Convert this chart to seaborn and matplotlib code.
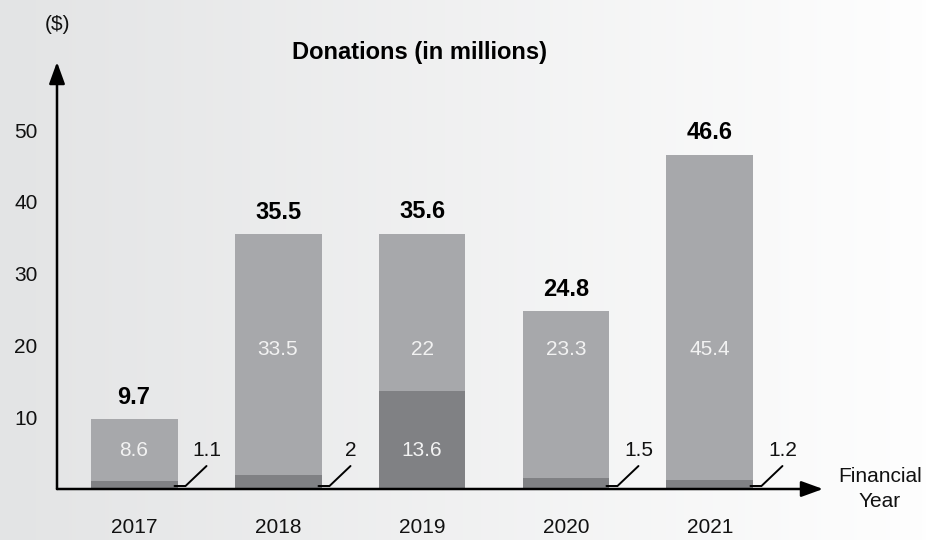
import numpy as np
import pandas as pd
import matplotlib
matplotlib.use("Agg")
import matplotlib.pyplot as plt
import seaborn as sns
from matplotlib.colors import LinearSegmentedColormap
from matplotlib.transforms import IdentityTransform

# Donations by financial year, split into two components (millions of $)
years = ["2017", "2018", "2019", "2020", "2021"]
base_part = [1.1, 2, 13.6, 1.5, 1.2]
upper_part = [8.6, 33.5, 22, 23.3, 45.4]
totals = [9.7, 35.5, 35.6, 24.8, 46.6]
y_ticks = [10, 20, 30, 40, 50]

LIGHT = "#a7a8ab"
DARK = "#808184"
W, H, DPI = 926, 540, 100

sns.set_theme(style="white")
plt.rcParams["font.family"] = ["Liberation Sans", "DejaVu Sans"]

fig = plt.figure(figsize=(W / DPI, H / DPI), dpi=DPI)

# soft horizontal background gradient
bg = fig.add_axes([0, 0, 1, 1], zorder=0)
cmap = LinearSegmentedColormap.from_list("bg", ["#e3e4e5", "#fefefe"])
bg.imshow(np.linspace(0, 1, 256)[None, :], aspect="auto", cmap=cmap,
          extent=[0, 1, 0, 1])
bg.axis("off")

ax = fig.add_axes([57 / W, (H - 489) / H, (823 - 57) / W, (489 - 62) / H], zorder=1)
ax.patch.set_alpha(0)

df = pd.DataFrame({"year": years, "total": totals, "base": base_part,
                   "upper": upper_part})
bar_w = 0.604
sns.barplot(data=df, x="year", y="total", color=LIGHT, width=bar_w,
            saturation=1, linewidth=0, ax=ax)
sns.barplot(data=df, x="year", y="base", color=DARK, width=bar_w,
            saturation=1, linewidth=0, ax=ax)

ax.set_xlim(-0.535, 4.785)
ax.set_ylim(0, 59.5)
for s in ax.spines.values():
    s.set_visible(False)
ax.set_xlabel("")
ax.set_ylabel("")
ax.set_yticks(y_ticks)
ax.set_yticklabels([str(t) for t in y_ticks])
ax.tick_params(axis="y", length=0, pad=14, labelsize=15, colors="#111111")
ax.tick_params(axis="x", length=0, pad=21, labelsize=15, colors="#111111")
ax.grid(False)

# axes drawn as arrows
arrow = dict(arrowstyle="-|>,head_length=0.55,head_width=0.2", color="black",
             lw=1.8, shrinkA=0, shrinkB=0, mutation_scale=24)
ax.annotate("", xy=(1, 0), xytext=(0, 0), xycoords="axes fraction",
            arrowprops=arrow, annotation_clip=False)
ax.annotate("", xy=(0, 1), xytext=(0, 0), xycoords="axes fraction",
            arrowprops=arrow, annotation_clip=False)

# value labels
rows = [19.4, 5.4]
for i in range(len(years)):
    ax.annotate(f"{totals[i]:g}", xy=(i, totals[i]), xytext=(0, 22),
                textcoords="offset pixels", ha="center", va="center",
                fontsize=17, fontweight="bold", color="black")
    segments = [(base_part[i], totals[i], upper_part[i]),
                (0, base_part[i], base_part[i])]
    for lo, hi, val in segments:
        inside = [r for r in rows if lo < r < hi]
        if inside:
            ax.text(i, inside[0], f"{val:g}", ha="center", va="center",
                    fontsize=15, color="#f2f2f2")
        else:
            # thin segment: callout with a leader line
            x0, y0 = ax.transData.transform((i + bar_w / 2, 0))
            xs = [x0 - 3, x0 + 8, x0 + 29]
            ys = [y0 + 3, y0 + 3, y0 + 23]
            ax.plot(xs, ys, color="black", lw=1.4, transform=IdentityTransform(),
                    clip_on=False, solid_joinstyle="miter", zorder=5)
            fig.text((x0 + 29) / W, (y0 + 38) / H, f"{val:g}", ha="center",
                     va="center", fontsize=15, color="#111111")

fig.text(58 / W, 1 - 24 / H, "($)", ha="center", va="center", fontsize=15,
         color="#111111")
fig.text(419 / W, 1 - 53 / H, "Donations (in millions)", ha="center",
         va="center", fontsize=17, fontweight="bold", color="black")
fig.text(880 / W, 1 - 489 / H, "Financial\nYear", ha="center", va="center",
         fontsize=15, linespacing=1.4, color="#111111")

fig.savefig("out.png", dpi=DPI)
